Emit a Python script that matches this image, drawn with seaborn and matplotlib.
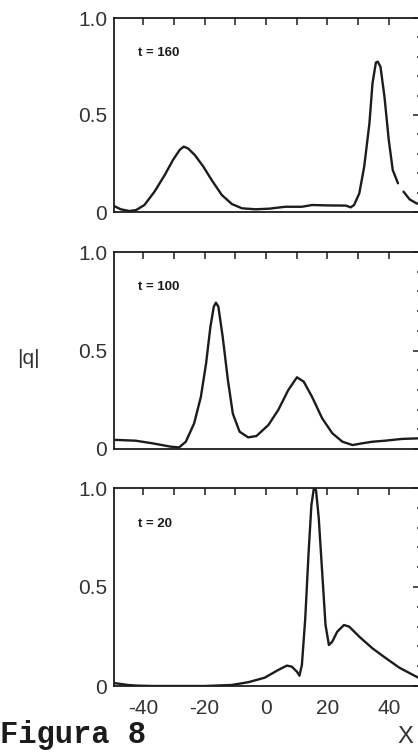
import numpy as np
import pandas as pd
import matplotlib
matplotlib.use("Agg")
import matplotlib.pyplot as plt
import seaborn as sns
from matplotlib.ticker import MultipleLocator

# ---- data ----
# t = 160 (the curve is broken near x = 44, so it has two pieces)
x160 = [-49.5, -47.3, -44.5, -42.3, -39.6, -36.3, -33.0, -30.3, -28.1, -26.8, -25.4, -23.2,
        -20.4, -17.7, -14.4, -11.1, -7.8, -3.4, 1.0, 6.3, 11.7, 15.0, 20.0, 26.0, 27.6,
        28.7, 30.4, 32.0, 33.7, 34.7, 35.8, 36.4, 37.3, 38.6, 40.0, 41.3, 43.0,
        44.8, 46.8, 49.0, 50.5]
y160 = [0.031, 0.014, 0.005, 0.010, 0.036, 0.105, 0.190, 0.268, 0.320, 0.337, 0.328, 0.294,
        0.234, 0.165, 0.088, 0.041, 0.019, 0.014, 0.017, 0.027, 0.027, 0.036, 0.034, 0.033, 0.024,
        0.036, 0.096, 0.234, 0.457, 0.663, 0.770, 0.775, 0.749, 0.594, 0.371, 0.216, 0.148,
        0.105, 0.065, 0.045, 0.038]
seg160 = [0] * 37 + [1] * 4

x100 = [-49.5, -48.4, -42.4, -37.0, -31.1, -28.3, -26.1, -23.4, -21.2, -19.5, -18.1, -17.0,
        -16.3, -15.5, -14.1, -12.4, -10.8, -8.6, -5.8, -3.1, 0.8, 4.0, 7.3, 10.1, 12.3,
        15.0, 18.3, 21.6, 24.9, 28.2, 31.4, 34.7, 38.7, 44.2, 49.6, 50.5]
y100 = [0.046, 0.046, 0.042, 0.029, 0.012, 0.008, 0.037, 0.130, 0.265, 0.435, 0.620, 0.722,
        0.743, 0.722, 0.570, 0.350, 0.180, 0.088, 0.059, 0.066, 0.122, 0.198, 0.300, 0.364, 0.342,
        0.265, 0.156, 0.080, 0.037, 0.020, 0.029, 0.037, 0.042, 0.051, 0.054, 0.055]

x20 = [-49.5, -45.0, -42.0, -37.0, -30.0, -20.0, -11.3, -5.8, -0.4, 4.0, 6.8, 8.4, 10.1,
       10.9, 11.7, 12.8, 13.9, 14.8, 15.6, 16.3, 17.2, 18.3, 19.4, 20.5, 21.6, 23.2, 25.4,
       27.1, 30.4, 34.7, 39.1, 43.5, 47.9, 50.5]
y20 = [0.015, 0.005, 0.002, 0.0, 0.0, 0.0, 0.005, 0.019, 0.042, 0.081, 0.103, 0.098, 0.072,
       0.052, 0.106, 0.342, 0.678, 0.914, 0.998, 0.990, 0.847, 0.577, 0.308, 0.207, 0.224, 0.274, 0.308,
       0.300, 0.249, 0.190, 0.140, 0.092, 0.056, 0.035]

panel_labels = ["t = 160", "t = 100", "t = 20"]
x_ticklabels = ["-40", "-20", "0", "20", "40"]
x_tickvals = [-40, -20, 0, 20, 40]
y_tickvals = [0, 0.5, 1.0]
y_ticklabels = ["0", "0.5", "1.0"]

sns.set_style("white")
plt.rcParams["font.family"] = ["Liberation Sans", "DejaVu Sans"]

W, H = 418, 753
fig = plt.figure(figsize=(W / 100, H / 100), dpi=100)

boxes = [(18, 212), (252, 449), (488, 686)]
left_px, right_px = 114, 421
frames = [
    pd.DataFrame({"x": x160, "y": y160, "seg": seg160}),
    pd.DataFrame({"x": x100, "y": y100, "seg": 0}),
    pd.DataFrame({"x": x20, "y": y20, "seg": 0}),
]
ink = "#1c1c1c"

for i, ((top, bot), df, lab) in enumerate(zip(boxes, frames, panel_labels)):
    ax = fig.add_axes([left_px / W, (H - bot) / H, (right_px - left_px) / W, (bot - top) / H])
    sns.lineplot(data=df, x="x", y="y", units="seg", estimator=None, ax=ax, color=ink,
                 lw=1.7, sort=False)
    ax.set_xlim(-49.5, 50.5)
    ax.set_ylim(0, 1.0)
    ax.set_xlabel("")
    ax.set_ylabel("")
    for s in ax.spines.values():
        s.set_visible(True)
        s.set_linewidth(1.3)
        s.set_color(ink)
    ax.set_xticks(x_tickvals)
    ax.xaxis.set_minor_locator(MultipleLocator(10))
    ax.set_yticks(y_tickvals)
    ax.yaxis.set_minor_locator(MultipleLocator(0.1))
    ax.tick_params(axis="both", which="both", direction="in", top=True, right=True,
                   color=ink, width=1.1)
    ax.tick_params(axis="x", which="both", length=5)
    ax.tick_params(axis="y", which="major", length=6)
    ax.tick_params(axis="y", which="minor", length=3)
    ax.set_yticklabels(y_ticklabels, fontsize=15, color="#333333")
    ax.tick_params(axis="y", pad=5)
    if i < 2:
        ax.set_xticklabels([])
    else:
        ax.set_xticklabels(x_ticklabels, fontsize=15, color="#333333")
        ax.tick_params(axis="x", pad=9)
    ax.text(0.078, 0.82, lab, transform=ax.transAxes, fontsize=9.5, fontweight="bold",
            color=ink, va="center", ha="left")

fig.text(28 / W, 1 - 358 / H, "|q|", fontsize=15, color="#333333", ha="center", va="center")
fig.text(0.0, 0.013, "Figura 8", fontsize=22, fontweight="bold",
         family=["Liberation Mono", "DejaVu Sans Mono"], color=ink, ha="left", va="baseline")
fig.text(405 / W, 0.013, "X", fontsize=17, color="#333333", ha="center", va="baseline")

fig.savefig("out.png", dpi=100, facecolor="white")
